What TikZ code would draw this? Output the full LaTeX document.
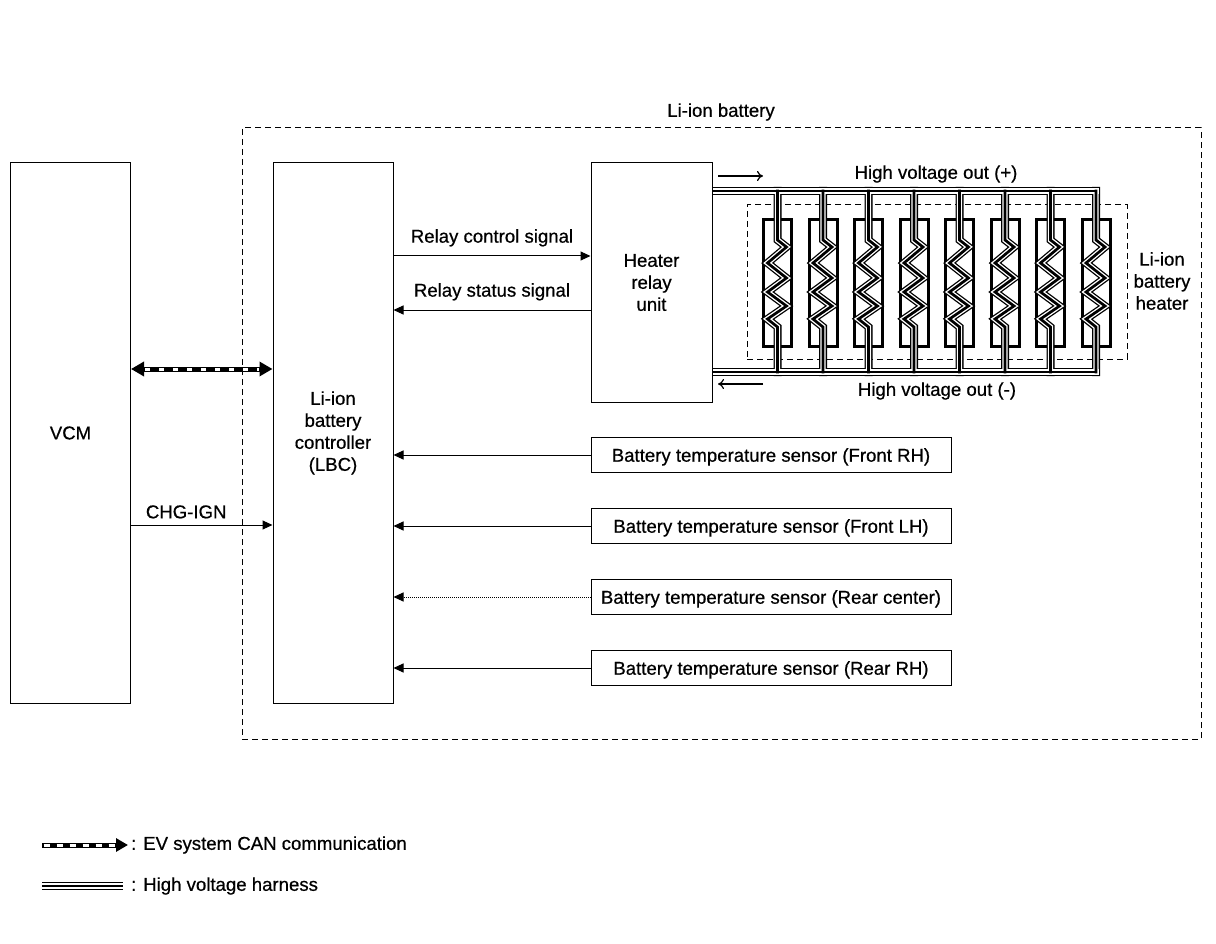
\documentclass[tikz,border=0pt]{standalone}
\usepackage{fontspec}
\setmainfont{Liberation Sans}[FakeBold=0.6]
\usetikzlibrary{arrows.meta}

\begin{document}
\begin{tikzpicture}[x=1pt, y=-1pt,
  font=\fontsize{18.6}{22}\selectfont,
  box/.style={draw, line width=1pt, inner sep=0pt, align=center},
  tall/.style={box, minimum width=120pt, minimum height=540pt},
  sensor/.style={box, minimum width=360pt, minimum height=35pt, text height=13.4pt, text depth=0pt},
  zone/.style={draw, line width=1pt, dash pattern=on 6pt off 4pt, inner sep=0pt},
  cell/.style={draw, line width=3pt, inner sep=0pt, minimum width=28pt, minimum height=127pt},
  sig/.style={line width=1pt, -{Triangle[length=10pt, width=9pt]}},
  flow/.style={line width=1.2pt, -{To[length=6pt, width=10pt]}},
  lbl/.style={inner sep=0pt, align=center},
  canbus/.style={line width=5pt},
  candash/.style={white, line width=3pt, dash pattern=on 5pt off 9pt},
]
\useasboundingbox (0,0) rectangle (1216,944);

% Controllers
\node[tall] (vcm) at (70.5,433) {VCM};
\node[tall] (lbc) at (333,433) {Li-ion\\battery\\controller\\(LBC)};

% CAN link and CHG-IGN
\coordinate (canrow) at (0,369);
\coordinate (ign) at (0,525);
\draw[canbus, {Triangle[length=13pt, width=14pt]}-{Triangle[length=13pt, width=14pt]}] (vcm.east |- canrow) -- (lbc.west |- canrow);
\draw[candash, shorten <=14pt, shorten >=14pt] (vcm.east |- canrow) -- (lbc.west |- canrow);
\draw[sig] (vcm.east |- ign) -- node[lbl, pos=0.39, above=6pt] {CHG-IGN} (lbc.west |- ign);

% Li-ion battery
\node[zone, minimum width=959pt, minimum height=611pt] (bat) at (721.5,433.5) {};
\node[lbl] (batname) at (721,112) {Li-ion battery};

% Temperature sensors
\foreach \n/\y/\t in {s1/455/Front RH, s2/526/Front LH, s3/597/Rear center, s4/668/Rear RH}
  \node[sensor] (\n) at (771,\y) {Battery temperature sensor (\t)};
\foreach \n in {s1,s2,s4}
  \draw[sig] (\n.west) -- (\n.west -| lbc.east);
\draw[sig, densely dotted] (s3.west) -- (s3.west -| lbc.east);

% Heater
\node[zone, minimum width=380pt, minimum height=154pt] (heater) at (937,282) {};
\node[lbl] (heatername) at (1162,281) {Li-ion\\battery\\heater};
\foreach \i in {0,...,7}
  \node[cell] (c\i) at (777.5+45.5*\i, 283) {};

% High voltage harness
\foreach \c/\w in {black/8pt, white/5.4pt, black/2.7pt} {
  \draw[\c, line width=\w, line cap=rect] (651.5,191) -- (c7.center |- 0,191);
  \draw[\c, line width=\w, line cap=rect] (651.5,372) -- (c7.center |- 0,372);
  \foreach \i in {0,...,7}
    \draw[\c, line width=\w, line cap=rect] (c\i.center |- 0,191) -- ++(0,49) -- ++(9,7) -- ++(-19,16) -- ++(19,15) -- ++(-19,14) -- ++(19,14) -- ++(-19,13) -- ++(10,8) -- (c\i.center |- 0,372);
}

% Heater relay unit
\node[box, fill=white, minimum width=121pt, minimum height=239pt] (relay) at (651.5,282.5) {Heater\\relay\\unit};
\coordinate (rcs) at (0,256);
\coordinate (rss) at (0,310);
\draw[sig] (lbc.east |- rcs) -- node[lbl, above=9pt] {Relay control signal} (relay.west |- rcs);
\draw[sig] (relay.west |- rss) -- node[lbl, above=9pt] {Relay status signal} (lbc.east |- rss);

\coordinate (hvpa) at (718,176);
\coordinate (hvma) at (763,384);
\draw[flow] (hvpa) -- ++(45,0);
\draw[flow] (hvma) -- ++(-45,0);
\node[lbl] (hvp) at (936,174) {High voltage out (+)};
\node[lbl] (hvm) at (937,391) {High voltage out (-)};

% Legend
\coordinate (lg1) at (42,845);
\coordinate (lg2) at (42,886);
\draw[canbus, -{Triangle[length=12pt, width=13pt]}] (lg1) -- ++(86,0) coordinate (lg1e);
\draw[candash, dash pattern=on 6pt off 7pt] ([xshift=1.5pt]lg1) -- ++(72,0);
\node[lbl, anchor=west] (lgt1) at ([xshift=3pt]lg1e) {: EV system CAN communication};
\foreach \c/\w in {black/8pt, white/5.4pt, black/2.7pt}
  \draw[\c, line width=\w] (lg2) -- ++(81,0);
\coordinate (lg2e) at (123,886);
\node[lbl, anchor=west] (lgt2) at ([xshift=8pt]lg2e) {: High voltage harness};
\end{tikzpicture}
\end{document}
